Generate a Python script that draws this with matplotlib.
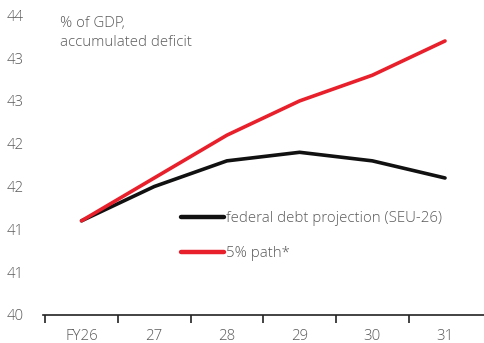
import matplotlib
matplotlib.use("Agg")
import matplotlib.pyplot as plt
from matplotlib import font_manager

# Fiscal years on the x axis
years = ["FY26", "27", "28", "29", "30", "31"]

# Debt ratio, % of GDP
federal_debt = [41.1, 41.5, 41.8, 41.9, 41.8, 41.6]
five_pct_path = [41.1, 41.6, 42.1, 42.5, 42.8, 43.2]

# Y gridline positions and the labels printed beside them
y_ticks = [40.0, 40.5, 41.0, 41.5, 42.0, 42.5, 43.0, 43.5]
y_tick_labels = ["40", "41", "41", "42", "42", "43", "43", "44"]

series_labels = ["federal debt projection (SEU-26)", "5% path*"]
unit_note = "% of GDP,\naccumulated deficit"

TEXT = "#5a5a5a"
BLACK = "#111111"
RED = "#e8202c"

family = "Open Sans"
names = {f.name for f in font_manager.fontManager.ttflist}
if family not in names:
    family = "DejaVu Sans"
plt.rcParams["font.family"] = [family, "DejaVu Sans"]
plt.rcParams["font.weight"] = "light"
FS = 10.8

W, H = 485, 343
fig = plt.figure(figsize=(W / 100, H / 100), dpi=100)
ax = fig.add_axes([43 / W, (H - 315) / H, (W - 43) / W, 310 / H])

x = list(range(len(years)))
ax.plot(x, federal_debt, color=BLACK, lw=2.6, solid_capstyle="round",
        solid_joinstyle="round", label=series_labels[0], zorder=3)
ax.plot(x, five_pct_path, color=RED, lw=2.6, solid_capstyle="round",
        solid_joinstyle="round", label=series_labels[1], zorder=3)

ax.set_xlim(-0.53, 5.55)
ax.set_ylim(40.0, 43.62)

ax.set_yticks(y_ticks)
ax.set_yticklabels(y_tick_labels)
ax.tick_params(axis="y", length=0, pad=14, labelsize=FS, labelcolor=TEXT)

# category labels centred, tick marks on the boundaries between years
ax.set_xticks(x)
ax.set_xticklabels(years)
ax.set_xticks([i - 0.5 for i in x], minor=True)
ax.tick_params(axis="x", which="major", length=0, pad=10, labelsize=FS,
               labelcolor=TEXT)
ax.tick_params(axis="x", which="minor", length=6, width=1.2, color="#222222",
               direction="out")

for s in ("left", "right", "top"):
    ax.spines[s].set_visible(False)
ax.spines["bottom"].set_color("#222222")
ax.spines["bottom"].set_linewidth(1.2)

ax.text(60 / W, 1 - 16 / H, unit_note, transform=fig.transFigure,
        ha="left", va="top", fontsize=FS, color=TEXT, linespacing=1.35)

leg = ax.legend(loc="upper left", bbox_to_anchor=(181 / W, 1 - 211 / H),
                bbox_transform=fig.transFigure, frameon=False, fontsize=FS,
                handlelength=2.9, handletextpad=0.12, labelspacing=1.35,
                borderaxespad=0, borderpad=0)
for t in leg.get_texts():
    t.set_color(TEXT)
for h in leg.get_lines():
    h.set_linewidth(3.2)

fig.savefig("out.png", dpi=100)
